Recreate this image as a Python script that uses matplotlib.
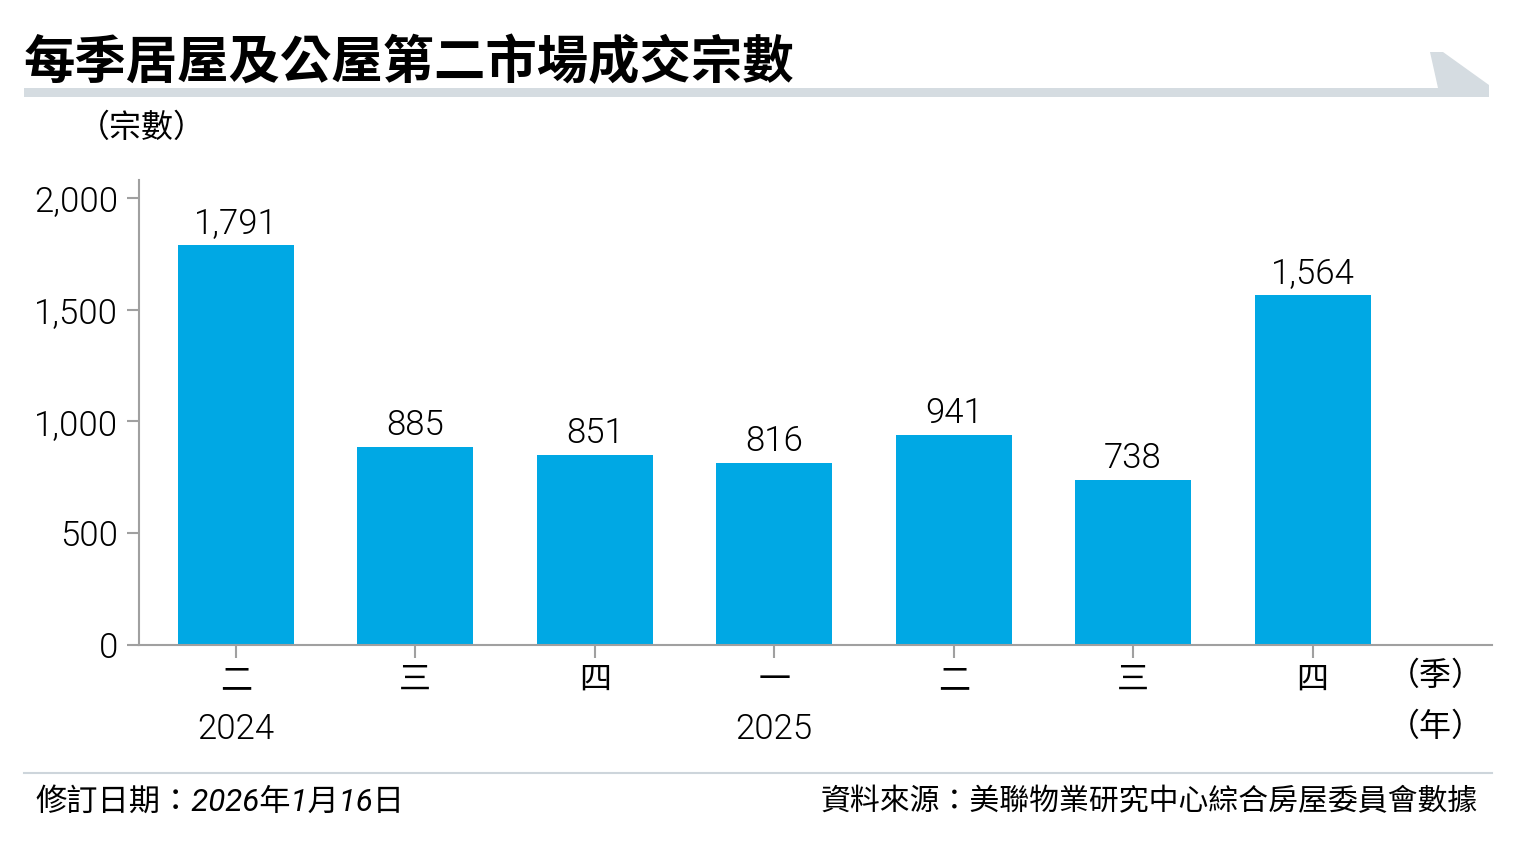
import matplotlib
matplotlib.use('Agg')
import matplotlib.pyplot as plt
from matplotlib.patches import Polygon
from matplotlib.lines import Line2D
import matplotlib.transforms as mtransforms

# 數據
quarters = ['二', '三', '四', '一', '二', '三', '四']
deals = [1791, 885, 851, 816, 941, 738, 1564]
years = ['2024', '2025']
year_pos = [0, 3]
yticks = [0, 500, 1000, 1500, 2000]

title = '每季居屋及公屋第二市場成交宗數'
unit = '（宗數）'
note_left = '修訂日期：2026年1月16日'
note_right = '資料來源：美聯物業研究中心綜合房屋委員會數據'

bar_color = '#00a8e4'
axis_color = '#a0a0a0'
band_color = '#d5dce1'

plt.rcParams['font.family'] = ['Roboto', 'Noto Sans CJK TC']
plt.rcParams['font.weight'] = 300

W, H = 1516, 848
fig = plt.figure(figsize=(W / 100, H / 100), dpi=100)

def px(x, y):
    return (x / W, 1 - y / H)

# 標題及灰色橫條
fig.text(*px(24, 62), title, fontsize=37, weight='bold', family=['Noto Sans CJK TC'],
         va='center', ha='left')
band = Polygon([px(24, 88), px(1438, 88), px(1430, 52), px(1443, 52), px(1489, 85),
                px(1489, 97), px(24, 97)], closed=True, transform=fig.transFigure,
               facecolor=band_color, edgecolor='none')
fig.add_artist(band)

fig.text(*px(78, 128), unit, fontsize=23, va='center', ha='left')

ax = fig.add_axes([139 / W, 1 - 645 / H, (1492 - 139) / W, (645 - 180) / H])
x = list(range(len(deals)))
ax.bar(x, deals, width=0.646, color=bar_color)
for xi, v in zip(x, deals):
    ax.text(xi, v + 22, f'{v:,}', ha='center', va='bottom', fontsize=25)

ax.set_xlim(-0.54, 7.0)
ax.set_ylim(0, 2080)
ax.set_yticks(yticks)
ax.set_yticklabels([f'{t:,}' for t in yticks], fontsize=25)
ax.set_xticks(x)
ax.set_xticklabels(quarters, fontsize=23)

for s in ['top', 'right']:
    ax.spines[s].set_visible(False)
for s in ['left', 'bottom']:
    ax.spines[s].set_color(axis_color)
    ax.spines[s].set_linewidth(1.5)
ax.tick_params(axis='both', color=axis_color, width=1.5, length=9, pad=6)

trans = mtransforms.blended_transform_factory(ax.transData, fig.transFigure)
for yr, p in zip(years, year_pos):
    ax.text(p, 1 - 729 / H, yr, transform=trans, ha='center', va='center', fontsize=25)

fig.text(*px(1436, 676), '（季）', fontsize=23, ha='center', va='center')
fig.text(*px(1436, 727), '（年）', fontsize=23, ha='center', va='center')

# 底部分隔線及註釋
fig.add_artist(Line2D([24 / W, 1492 / W], [1 - 773 / H] * 2, transform=fig.transFigure,
                      color='#cdd5db', linewidth=1.5))
fig.text(*px(35, 802), note_left, fontsize=22.5, style='italic', weight='normal',
         ha='left', va='center')
fig.text(*px(1478, 802), note_right, fontsize=21.5, style='italic', weight='normal',
         ha='right', va='center')

fig.savefig('out.png', dpi=100)
